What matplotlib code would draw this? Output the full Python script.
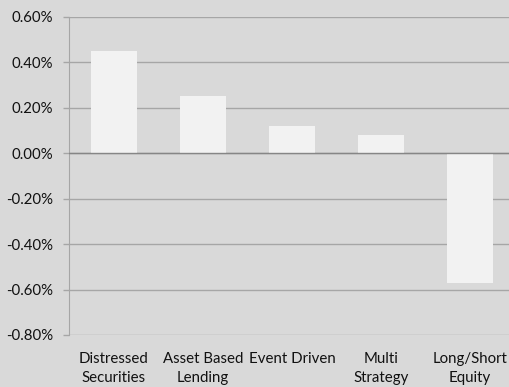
import matplotlib.pyplot as plt
from matplotlib.ticker import FuncFormatter

categories = ['Distressed\nSecurities', 'Asset Based\nLending', 'Event Driven',
              'Multi\nStrategy', 'Long/Short\nEquity']
values = [0.45, 0.25, 0.12, 0.08, -0.57]  # percent
yticks = [-0.8, -0.6, -0.4, -0.2, 0.0, 0.2, 0.4, 0.6]

plt.rcParams['font.family'] = ['Lato', 'DejaVu Sans']

bg = '#d9d9d9'
fig = plt.figure(figsize=(5.1, 3.87), dpi=100, facecolor=bg)
ax = fig.add_axes([69.5 / 510, 1 - 335 / 387, 445 / 510, 318 / 387])
ax.set_facecolor(bg)

x = range(len(categories))
ax.bar(x, values, width=0.52, color='#f2f2f2', zorder=3)

ax.set_ylim(-0.8, 0.6)
ax.set_xlim(-0.5, len(categories) - 0.5)
ax.set_yticks(yticks)
ax.yaxis.set_major_formatter(FuncFormatter(lambda v, p: '%.2f%%' % v))
ax.grid(axis='y', color='#a6a6a6', linewidth=1, zorder=1)
ax.axhline(0, color='#868686', linewidth=1, zorder=4)

ax.set_xticks(list(x))
ax.set_xticklabels(categories, va='top', linespacing=1.45)
ax.tick_params(axis='x', length=0, pad=12, labelsize=10.8, colors='#111111')
ax.tick_params(axis='y', length=4, width=1, color='#a6a6a6', labelsize=10.8,
               labelcolor='#111111', pad=8)

for s in ['top', 'right', 'bottom']:
    ax.spines[s].set_visible(False)
ax.spines['left'].set_color('#a6a6a6')

fig.savefig('out.png', dpi=100, facecolor=bg)
